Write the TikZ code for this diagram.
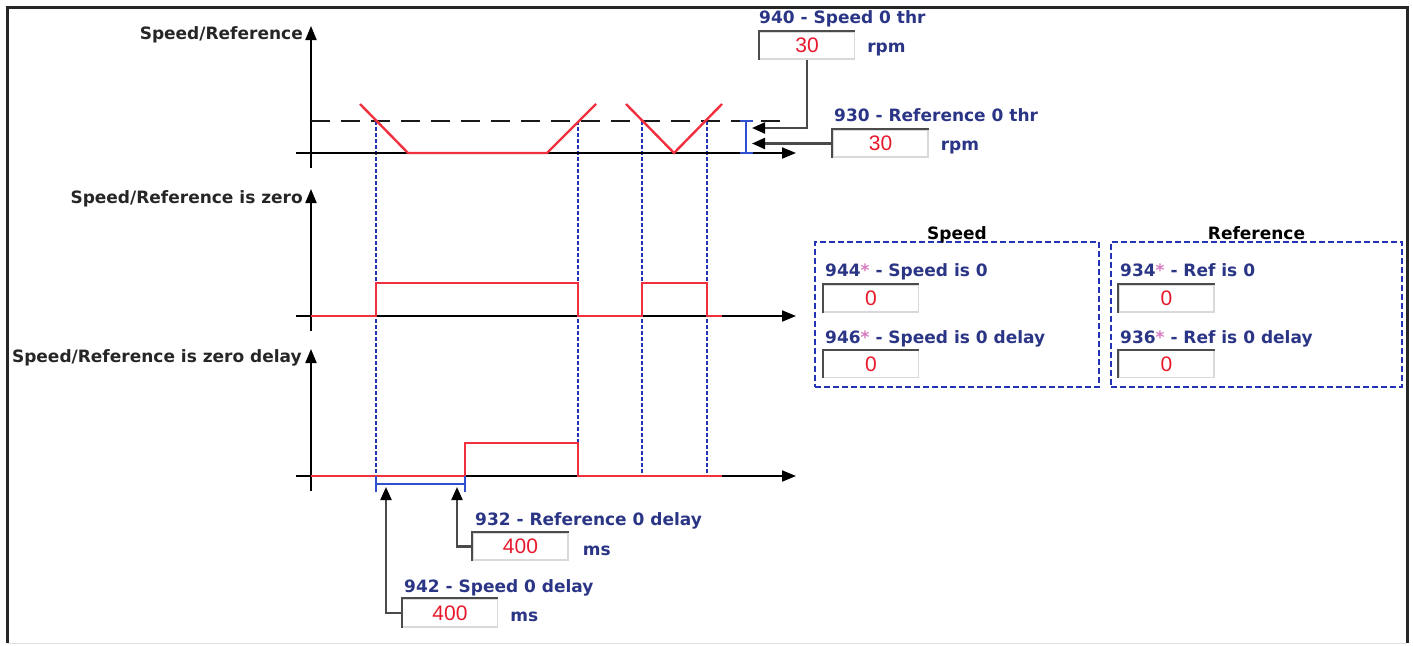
\documentclass[tikz,border=0pt]{standalone}
\usepackage{fontspec}
\setmainfont{DejaVu Sans}
\newfontfamily\numfont{Liberation Sans}
\usetikzlibrary{arrows.meta,positioning}
\definecolor{lblblue}{HTML}{2B3585}
\definecolor{valred}{HTML}{E8192C}
\definecolor{sigred}{HTML}{F0303F}
\definecolor{dotblue}{HTML}{2432B5}
\definecolor{barblue}{HTML}{3050D0}
\definecolor{conngray}{HTML}{4A4A4A}
\definecolor{astpink}{HTML}{D77BC0}

\begin{document}
\begin{tikzpicture}[x=1pt,y=-1pt,font=\fontsize{17}{20}\selectfont\bfseries,
  axis/.style={line width=2pt,-{Triangle[length=14pt,width=11pt]}},
  sig/.style={sigred,line width=2.4pt},
  guide/.style={dotblue,line width=2.6pt,dash pattern=on 3.5pt off 2.5pt},
  conn/.style={conngray,line width=2.2pt,-{Triangle[length=13pt,width=11pt,color=black]}},
  fld/.style={draw=black!15,line width=1.2pt,fill=white,minimum width=95pt,minimum height=27pt,inner sep=0pt,text=valred,font=\numfont\fontsize{21}{23}\selectfont},
  lbl/.style={anchor=mid west,inner sep=0pt,text=lblblue},
  unit/.style={inner sep=0pt,text=lblblue,yshift=-4pt},
  axlbl/.style={anchor=mid east,inner sep=0pt,text=black!85},
  panel/.style={dotblue,draw,line width=2.5pt,dash pattern=on 6pt off 3pt,minimum height=145pt}]
\useasboundingbox (0,0) rectangle (1413,645);
% frame
\draw[black!85,line width=3pt] (7,643) -- (7,7) -- (1407,7) -- (1407,643);
\draw[black!12,line width=1pt] (7,643) -- (1407,643);

% guides through the threshold crossings
\foreach \x in {376,578,642,707}{\draw[guide] (\x,121) -- (\x,476);}

% three time axes
\foreach \y/\t in {153/26,316/189,476/349}{
  \draw[axis] (311,\y+15) -- (311,\t);
  \draw[axis] (296,\y) -- (796,\y);
}
\node[axlbl] (ax1) at (303,37) {Speed/Reference};
\node[axlbl] (ax2) at (303,201) {Speed/Reference is zero};
\node[axlbl] (ax3) at (302,360) {Speed/Reference is zero delay};

% threshold and signals
\draw[black!90,line width=2.4pt,dash pattern=on 19pt off 11pt] (311,121) -- (780,121);
\draw[sig] (360,104) -- (408,153) -- (547,153) -- (596,104);
\draw[sig] (626,104) -- (674,153) -- (722,104);
\draw[sig] (311,316) -- (376,316) -- (376,283) -- (578,283) -- (578,316) -- (642,316) -- (642,283) -- (707,283) -- (707,316) -- (722,316);
\draw[sig] (311,476) -- (465,476) -- (465,443) -- (578,443) -- (578,476) -- (722,476);

% threshold bar and delay bracket
\draw[barblue,line width=2.4pt] (740,121) -- (753,121) (746,121) -- (746,153) (740,153) -- (753,153);
\draw[barblue,line width=2.4pt] (376,476) -- (376,492) (376,484) -- (465,484) (465,476) -- (465,492);
\coordinate (tipS) at (752,128);
\coordinate (tipR) at (752,143.5);
\coordinate (tipSd) at (386,487);
\coordinate (tipRd) at (457,487);

% parameter fields
\node[fld] (thrS) at (807,45.5) {30};
\node[lbl] at (759,21) {940 - Speed 0 thr};
\node[unit,right=12pt of thrS] {rpm};
\node[fld] (thrR) at (880.5,143.5) {30};
\node[lbl] at (834,119) {930 - Reference 0 thr};
\node[unit,right=12pt of thrR] {rpm};
\node[fld] (dlyR) at (520.5,546.5) {400};
\node[lbl] at (475,523) {932 - Reference 0 delay};
\node[unit,right=14pt of dlyR] {ms};
\node[fld,minimum height=28pt] (dlyS) at (450,613) {400};
\node[lbl] at (404,590) {942 - Speed 0 delay};
\node[unit,right=12pt of dlyS] {ms};

\draw[conn] (thrS.south) |- (tipS);
\draw[conn] (thrR.west) -- (tipR);
\draw[conn] (dlyS.west) -| (tipSd);
\draw[conn] (dlyR.west) -| (tipRd);

% status panels
\node[panel,minimum width=284pt] (pS) at (957,314.5) {};
\node[panel,minimum width=291pt] (pR) at (1256.5,314.5) {};
\node[inner sep=0pt,anchor=base] at ([yshift=1pt]pS.north) {Speed};
\node[inner sep=0pt,anchor=base] at ([yshift=1pt]pR.north) {Reference};
\node[lbl] at (825,274) {944{\color{astpink}*} - Speed is 0};
\node[fld] (isS) at (871,298.5) {0};
\node[lbl] at (825,341) {946{\color{astpink}*} - Speed is 0 delay};
\node[fld] (isSd) at (871,364) {0};
\node[lbl] at (1120,274) {934{\color{astpink}*} - Ref is 0};
\node[fld] (isR) at (1166.5,298.5) {0};
\node[lbl] at (1120,341) {936{\color{astpink}*} - Ref is 0 delay};
\node[fld] (isRd) at (1166.5,364) {0};

% sunken edges of the fields
\foreach \f in {thrS,thrR,dlyR,dlyS,isS,isSd,isR,isRd}{\draw[black!70,line width=2pt] (\f.south west) -- (\f.north west) -- (\f.north east);}
\end{tikzpicture}
\end{document}
